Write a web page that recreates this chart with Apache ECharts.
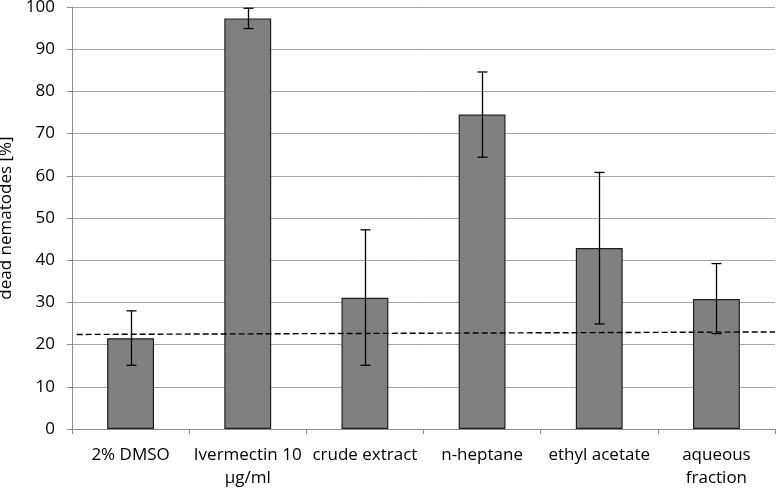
<!DOCTYPE html>
<html><head><meta charset="utf-8">
<script src="https://cdn.jsdelivr.net/npm/echarts@6/dist/echarts.min.js"></script>
<style>html,body{margin:0;padding:0;background:#fff}#c{width:776px;height:489px}</style>
</head><body><div id="c"></div>
<script>
var categories = ['2% DMSO', 'Ivermectin 10\nµg/ml', 'crude extract', 'n-heptane', 'ethyl acetate', 'aqueous\nfraction'];
var means = [21.5, 97.3, 31.1, 74.5, 42.9, 30.8];
var errLow = [15.1, 94.9, 15.1, 64.4, 24.9, 22.6];
var errHigh = [28.0, 99.7, 47.2, 84.6, 60.8, 39.2];
var trendLine = [[0.04, 22.4], [6, 23.0]];
var yTicks = [0, 10, 20, 30, 40, 50, 60, 70, 80, 90, 100];

var FONT = '"Open Sans", sans-serif';
var chart = echarts.init(document.getElementById('c'), null, {renderer: 'canvas'});
var errData = categories.map(function (c, i) { return [i, errLow[i], errHigh[i]]; });

chart.setOption({
  animation: false,
  grid: {left: 72, right: 1, top: 7, bottom: 60, containLabel: false, outerBoundsMode: 'none'},
  xAxis: [{
    type: 'category',
    data: categories,
    boundaryGap: true,
    axisLine: {lineStyle: {color: '#8c8c8c', width: 1}},
    axisTick: {show: true, length: 5, lineStyle: {color: '#8c8c8c'}},
    axisLabel: {color: '#000', fontFamily: FONT, fontSize: 17, lineHeight: 23, margin: 15, interval: 0}
  }, {
    type: 'value', min: 0, max: 6, show: false
  }],
  yAxis: {
    type: 'value', min: 0, max: 100, interval: 10,
    name: 'dead nematodes [%]', nameLocation: 'middle', nameGap: 49,
    nameTextStyle: {color: '#000', fontFamily: FONT, fontSize: 17},
    axisLine: {show: true, lineStyle: {color: '#8c8c8c'}},
    axisTick: {show: true, length: 5, lineStyle: {color: '#8c8c8c'}},
    axisLabel: {color: '#000', fontFamily: FONT, fontSize: 17, margin: 17,
      formatter: function (v) { return yTicks.indexOf(v) >= 0 ? String(v) : ''; }},
    splitLine: {lineStyle: {color: '#a6a6a6', width: 1}}
  },
  series: [{
    type: 'bar',
    data: means,
    barWidth: '40%',
    itemStyle: {color: '#808080', borderColor: '#1f1f1f', borderWidth: 1.2},
    z: 2
  }, {
    type: 'custom',
    data: errData,
    z: 4,
    renderItem: function (params, api) {
      var x = api.value(0);
      var lo = api.coord([x, api.value(1)]);
      var hi = api.coord([x, api.value(2)]);
      var cx = Math.round(lo[0]) + 0.5;
      var hw = 5;
      var st = {stroke: '#000', lineWidth: 1.3};
      return {type: 'group', children: [
        {type: 'line', shape: {x1: cx, y1: hi[1], x2: cx, y2: lo[1]}, style: st},
        {type: 'line', shape: {x1: cx - hw, y1: hi[1], x2: cx + hw, y2: hi[1]}, style: st},
        {type: 'line', shape: {x1: cx - hw, y1: lo[1], x2: cx + hw, y2: lo[1]}, style: st}
      ]};
    }
  }, {
    type: 'line',
    xAxisIndex: 1,
    data: trendLine,
    symbol: 'none',
    lineStyle: {color: '#000', width: 1.4, type: [6, 3]},
    z: 5
  }]
});
</script></body></html>
